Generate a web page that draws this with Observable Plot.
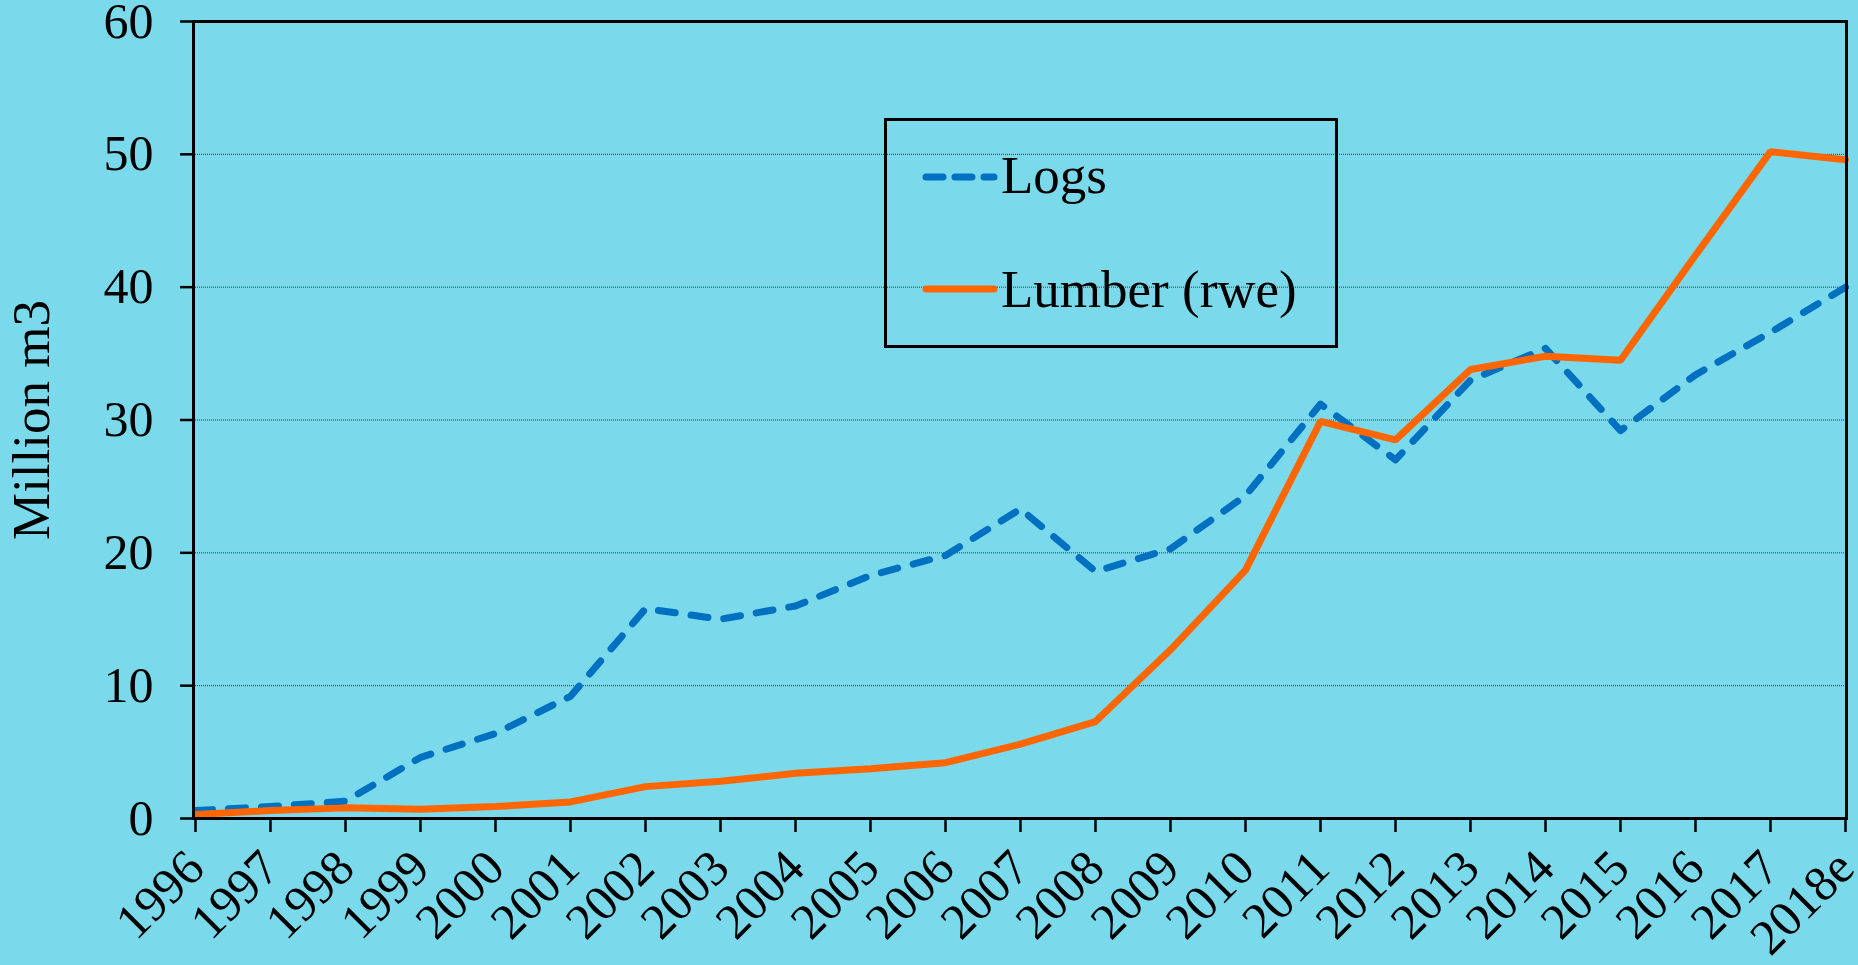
<!DOCTYPE html>
<html><head><meta charset="utf-8">
<script src="https://cdn.jsdelivr.net/npm/d3@7"></script>
<script src="https://cdn.jsdelivr.net/npm/@observablehq/plot@0.6"></script>
<style>
html,body{margin:0;padding:0;background:#7AD9EB;overflow:hidden;}
#wrap{position:relative;width:1858px;height:965px;}
#legend{position:absolute;left:884px;top:118px;}
</style></head><body>
<div id="wrap"><div id="chart"></div><div id="legend"></div></div>
<script>
const years = ["1996","1997","1998","1999","2000","2001","2002","2003","2004","2005","2006","2007","2008","2009","2010","2011","2012","2013","2014","2015","2016","2017","2018e"];
const logs = [0.6,0.9,1.3,4.6,6.4,9.2,15.8,15.0,16.0,18.3,19.8,23.3,18.6,20.3,24.3,31.2,27.0,33.0,35.4,29.2,33.4,36.6,40.0];
const lumber = [0.3,0.6,0.8,0.7,0.9,1.25,2.4,2.8,3.4,3.75,4.2,5.6,7.3,12.7,18.7,29.9,28.5,33.8,34.8,34.5,42.4,50.2,49.6];
const yTicks = [0,10,20,30,40,50,60];
const gridValues = [10,20,30,40,50];
const seriesNames = ["Logs","Lumber (rwe)"];
const yTitle = ["Million m3"];

const logsData = years.map((y,i)=>({year:y, value:logs[i]}));
const lumberData = years.map((y,i)=>({year:y, value:lumber[i]}));

const BLUE = "#0070C0", ORANGE = "#FF6600";
const FONT = "'Liberation Serif','Times New Roman',serif";

const chart = Plot.plot({
  width:1858, height:965,
  marginLeft:193, marginRight:12, marginTop:21, marginBottom:147,
  style:{background:"#7AD9EB", fontFamily:FONT, color:"black"},
  x:{type:"point", domain:years, padding:0, label:null},
  y:{domain:[0,60], label:null},
  marks:[
    Plot.ruleY(gridValues, {stroke:"#1f3f48", strokeWidth:1, strokeDasharray:"1,1"}),
    Plot.axisY({ticks:yTicks, tickSize:13, tickPadding:27, fontSize:50, strokeWidth:2.5, label:null}),
    Plot.axisX({tickSize:14, tickPadding:27, tickRotate:-45, fontSize:50, strokeWidth:2.5, label:null}),
    Plot.line(logsData, {x:"year", y:"value", stroke:BLUE, strokeWidth:7, strokeDasharray:"17,16", strokeLinecap:"round", strokeLinejoin:"round"}),
    Plot.line(lumberData, {x:"year", y:"value", stroke:ORANGE, strokeWidth:7, strokeLinejoin:"miter"}),
    Plot.frame({stroke:"black", strokeWidth:3}),
    Plot.text(yTitle, {frameAnchor:"left", textAnchor:"middle", lineAnchor:"middle", rotate:-90, dx:-161, fontSize:53, fill:"black"})
  ]
});
document.getElementById("chart").appendChild(chart);

// legend
const lg = d3.select("#legend").append("svg").attr("width",456).attr("height",232);
lg.append("rect").attr("x",1.5).attr("y",1.5).attr("width",451).attr("height",227).attr("fill","none").attr("stroke","black").attr("stroke-width",3);
const rows = [{name:seriesNames[0], color:BLUE, dash:"16,16", cy:59, by:75},{name:seriesNames[1], color:ORANGE, dash:null, cy:171, by:189}];
rows.forEach(r=>{
  const l = lg.append("line").attr("x1",42).attr("x2",110).attr("y1",r.cy).attr("y2",r.cy).attr("stroke",r.color).attr("stroke-width",7).attr("stroke-linecap","round");
  if(r.dash) l.attr("stroke-dasharray","17,12");
  lg.append("text").attr("x",117).attr("y",r.by).attr("font-family",FONT).attr("font-size",53).attr("fill","black").text(r.name);
});
</script>
</body></html>
